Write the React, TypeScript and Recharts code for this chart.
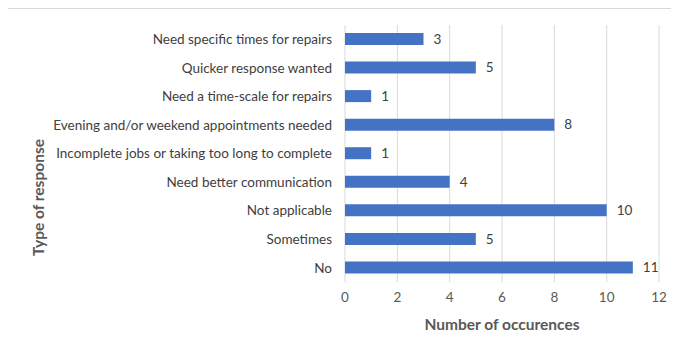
import { BarChart, Bar, XAxis, YAxis, CartesianGrid, LabelList, Label } from "recharts";

const categories = [
  "Need specific times for repairs",
  "Quicker response wanted",
  "Need a time-scale for repairs",
  "Evening and/or weekend appointments needed",
  "Incomplete jobs or taking too long to complete",
  "Need better communication",
  "Not applicable",
  "Sometimes",
  "No",
];
const counts = [3, 5, 1, 8, 1, 4, 10, 5, 11];
const xTicks = [0, 2, 4, 6, 8, 10, 12];

const data = categories.map((name, i) => ({ name, count: counts[i] }));

const font = "Lato, 'Open Sans', sans-serif";

function YTitle(props: any) {
  const vb = props.viewBox;
  const cx = vb.x + 38;
  const cy = vb.y + vb.height / 2 + 44;
  return (
    <text
      x={cx}
      y={cy}
      transform={`rotate(-90 ${cx} ${cy})`}
      textAnchor="middle"
      dominantBaseline="central"
      fontSize={15.5}
      fontWeight="bold"
      fill="#595959"
      fontFamily={font}
    >
      Type of response
    </text>
  );
}

export default function App() {
  return (
    <div style={{ position: "relative", width: 679, height: 349, margin: -8, overflow: "hidden", background: "#fff" }}>
      <div
        style={{
          position: "absolute",
          left: 5,
          top: 8,
          width: 720,
          height: 400,
          borderTop: "1px solid #d9d9d9",
          borderLeft: "1px solid #d9d9d9",
        }}
      />
      <BarChart
        width={679}
        height={349}
        data={data}
        layout="vertical"
        margin={{ top: 25, right: 20, left: 0, bottom: 0 }}
        style={{ position: "absolute", left: 0, top: 0, fontFamily: font }}
      >
        <CartesianGrid horizontal={false} stroke="#d9d9d9" />
        <XAxis
          type="number"
          domain={[0, 12]}
          ticks={xTicks}
          height={67}
          axisLine={false}
          tickLine={false}
          tickSize={0}
          tickMargin={10}
          tick={{ fill: "#595959", fontSize: 13.5 }}
        >
          <Label
            value="Number of occurences"
            position="insideBottom"
            offset={19}
            style={{ fontSize: 15.5, fontWeight: "bold", fill: "#595959" }}
          />
        </XAxis>
        <YAxis
          type="category"
          dataKey="name"
          width={345}
          axisLine={false}
          tickLine={false}
          tickSize={0}
          tickMargin={13}
          interval={0}
          tick={{ fill: "#404040", fontSize: 13.5 }}
        >
          <Label content={YTitle} />
        </YAxis>
        <Bar dataKey="count" fill="#4472C4" barSize={12} isAnimationActive={false}>
          <LabelList dataKey="count" position="right" offset={10} fill="#404040" fontSize={13.5} />
        </Bar>
      </BarChart>
    </div>
  );
}
